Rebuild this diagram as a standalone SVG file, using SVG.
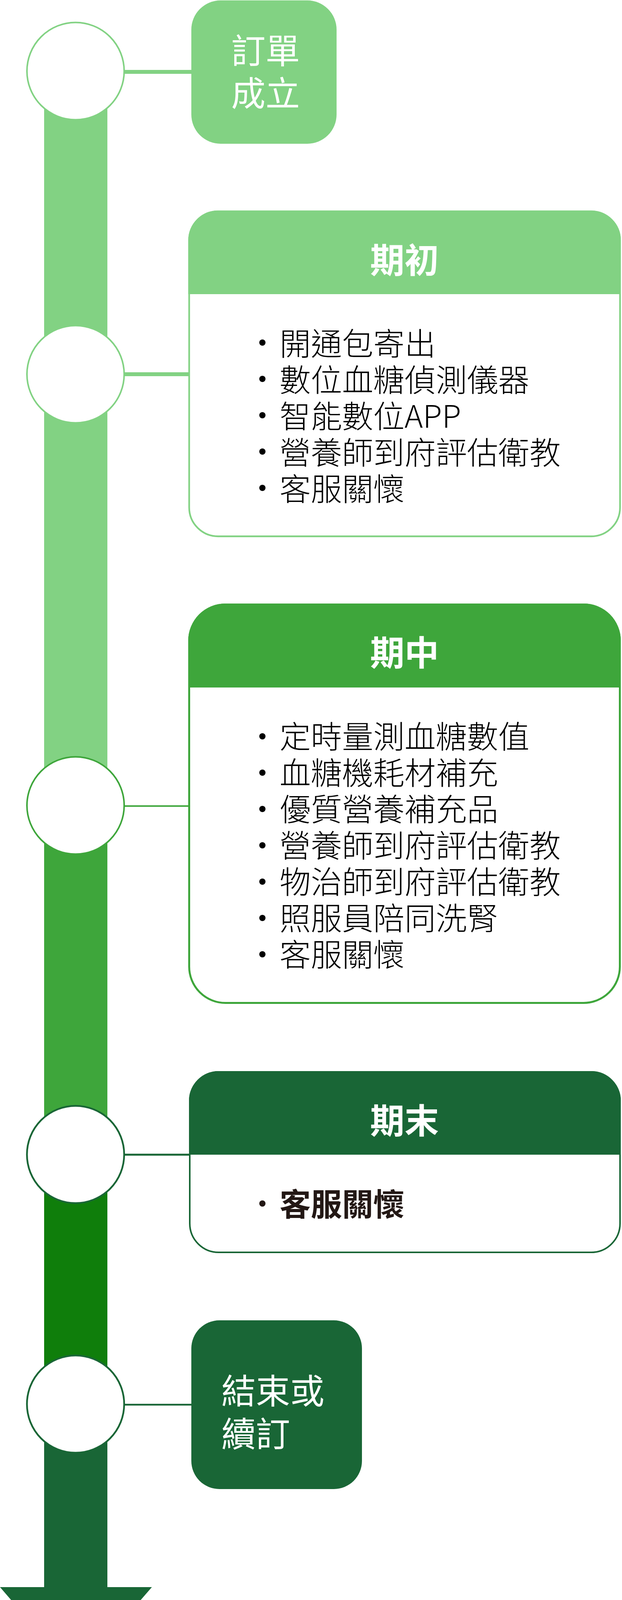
<svg xmlns="http://www.w3.org/2000/svg" width="1593" height="4288" viewBox="0 0 1593 4288">
<style>
.cjk{font-family:"Noto Sans CJK TC","Noto Sans CJK SC",sans-serif}
.title{font-size:88px;fill:#ffffff;font-weight:400}
.head{font-size:88px;fill:#ffffff;font-weight:700;text-anchor:middle}
.item{font-size:80px;fill:#000000;font-weight:300}
.itemb{font-size:80px;fill:#231815;font-weight:700}
.dot{fill:#000000}
.c1{fill:#ffffff;stroke:#82d283;stroke-width:4}
.c2{fill:#ffffff;stroke:#3ea63b;stroke-width:4}
.c3{fill:#ffffff;stroke:#196636;stroke-width:4.5}
</style>
<rect width="1593" height="4288" fill="#ffffff"/>
<g id="timeline">
<rect x="113" y="182" width="162" height="1880" fill="#82d283"/>
<rect x="113" y="2062" width="162" height="894" fill="#3ea63b"/>
<rect x="113" y="2955" width="162" height="641" fill="#0f7e0b"/>
<rect x="113" y="3595" width="162" height="470" fill="#196636"/>
<polygon points="0,4063 389,4063 194,4288" fill="#196636"/>
</g>
<g id="connectors">
<line x1="318" y1="184" x2="492" y2="184" stroke="#82d283" stroke-width="10"/>
<line x1="318" y1="958" x2="486" y2="958" stroke="#82d283" stroke-width="10"/>
<line x1="318" y1="2063.5" x2="486" y2="2063.5" stroke="#3ea63b" stroke-width="4"/>
<line x1="318" y1="2956" x2="487" y2="2956" stroke="#196636" stroke-width="5"/>
<line x1="318" y1="3596" x2="492" y2="3596" stroke="#196636" stroke-width="4.5"/>
</g>
<g id="node-order">
<circle class="c1" cx="193.5" cy="182" r="124.5"/>
<rect x="490" y="1" width="372" height="367" rx="75" ry="75" fill="#82d283"/>
<text class="cjk title" text-anchor="middle"><tspan x="680" y="162">訂單</tspan><tspan x="680" y="271">成立</tspan></text>
</g>
<g id="node-early">
<circle class="c1" cx="193.5" cy="958" r="124.5"/>
<rect x="484.5" y="541" width="1103.5" height="832" rx="74" ry="74" fill="#ffffff" stroke="#82d283" stroke-width="4.3"/>
<path d="M482,753 V615 A76,76 0 0 1 558,539 H1514 A76,76 0 0 1 1590,615 V753 Z" fill="#82d283"/>
<text class="cjk head" x="1036" y="698">期初</text>
<circle class="dot" cx="672" cy="877" r="8"/>
<circle class="dot" cx="672" cy="970" r="8"/>
<circle class="dot" cx="672" cy="1063" r="8"/>
<circle class="dot" cx="672" cy="1156" r="8"/>
<circle class="dot" cx="672" cy="1249" r="8"/>
<text class="cjk item"><tspan x="716" y="909">開通包寄出</tspan><tspan x="716" y="1002">數位血糖偵測儀器</tspan><tspan x="716" y="1095">智能數位APP</tspan><tspan x="716" y="1188">營養師到府評估衛教</tspan><tspan x="716" y="1281">客服關懷</tspan></text>
</g>
<g id="node-middle">
<circle class="c2" cx="193.5" cy="2062" r="124.5"/>
<rect x="484.5" y="1547.5" width="1103" height="1020" rx="93" ry="93" fill="#ffffff" stroke="#3ea63b" stroke-width="5"/>
<path d="M482,1760 V1640 A95,95 0 0 1 577,1545 H1495 A95,95 0 0 1 1590,1640 V1760 Z" fill="#3ea63b"/>
<text class="cjk head" x="1036" y="1703">期中</text>
<circle class="dot" cx="672" cy="1885" r="8"/>
<circle class="dot" cx="672" cy="1978" r="8"/>
<circle class="dot" cx="672" cy="2071" r="8"/>
<circle class="dot" cx="672" cy="2164" r="8"/>
<circle class="dot" cx="672" cy="2257" r="8"/>
<circle class="dot" cx="672" cy="2350" r="8"/>
<circle class="dot" cx="672" cy="2443" r="8"/>
<text class="cjk item"><tspan x="716" y="1915">定時量測血糖數值</tspan><tspan x="716" y="2008">血糖機耗材補充</tspan><tspan x="716" y="2101">優質營養補充品</tspan><tspan x="716" y="2194">營養師到府評估衛教</tspan><tspan x="716" y="2287">物治師到府評估衛教</tspan><tspan x="716" y="2380">照服員陪同洗腎</tspan><tspan x="716" y="2473">客服關懷</tspan></text>
</g>
<g id="node-late">
<circle class="c3" cx="193.5" cy="2955.5" r="124.5"/>
<rect x="486" y="2744" width="1102" height="462" rx="74" ry="74" fill="#ffffff" stroke="#196636" stroke-width="4"/>
<path d="M484,2956 V2818 A76,76 0 0 1 560,2742 H1514 A76,76 0 0 1 1590,2818 V2956 Z" fill="#196636"/>
<text class="cjk head" x="1036" y="2901">期末</text>
<circle cx="672" cy="3081" r="8" fill="#231815"/>
<text class="cjk itemb" x="716" y="3112">客服關懷</text>
</g>
<g id="node-end">
<circle class="c3" cx="193.5" cy="3594.5" r="124.5"/>
<rect x="490" y="3380" width="437" height="432" rx="72" ry="72" fill="#196636"/>
<text class="cjk title"><tspan x="567" y="3593">結束或</tspan><tspan x="567" y="3703">續訂</tspan></text>
</g>
</svg>
